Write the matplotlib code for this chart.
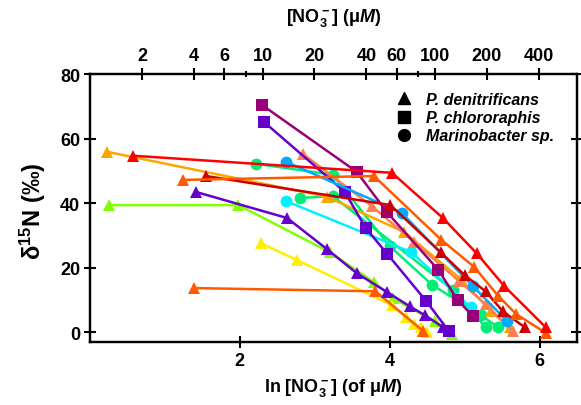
import numpy as np
import matplotlib
matplotlib.use("Agg")
import matplotlib.pyplot as plt
from matplotlib.lines import Line2D

plt.rcParams['font.family'] = ['Liberation Sans', 'DejaVu Sans']
plt.rcParams['font.weight'] = 'bold'
plt.rcParams['mathtext.fontset'] = 'custom'
plt.rcParams['mathtext.rm'] = 'Liberation Sans:bold'
plt.rcParams['mathtext.it'] = 'Liberation Sans:bold:italic'
plt.rcParams['mathtext.bf'] = 'Liberation Sans:bold'

# series: (marker, colour, ln[NO3-], d15N)
# P. denitrificans (triangles)
red_x = [0.57, 4.03, 4.71, 5.16, 5.53, 6.08]
red_y = [54.7, 49.4, 35.4, 24.5, 14.3, 1.6]
dkred_x = [1.55, 4.01, 4.68, 5.00, 5.28, 5.51, 5.80]
dkred_y = [48.4, 39.4, 24.8, 17.7, 12.7, 6.5, 1.6]
orred_x = [1.24, 3.79, 4.69, 5.13, 5.45, 5.69, 6.09]
orred_y = [47.2, 48.4, 28.6, 20.2, 11.2, 5.6, -0.3]
orange_x = [0.23, 3.16, 4.19, 4.95, 5.35, 5.60]
orange_y = [55.9, 42.0, 31.1, 16.5, 6.5, 1.5]
coral_x = [2.84, 3.76, 4.33, 4.93, 5.28, 5.64]
coral_y = [55.3, 39.1, 27.9, 15.8, 8.7, 0.3]
lime_x = [0.25, 1.98, 3.20, 3.79, 4.04, 4.60, 4.83]
lime_y = [39.4, 39.4, 24.8, 15.5, 10.6, 3.4, -0.6]
purple_x = [1.41, 2.63, 3.16, 3.56, 3.97, 4.27, 4.47, 4.71]
purple_y = [43.5, 35.4, 25.8, 18.3, 12.4, 8.0, 5.3, 1.6]
yellow_x = [2.28, 2.76, 4.03, 4.22, 4.33, 4.42, 4.50]
yellow_y = [27.6, 22.4, 8.4, 4.7, 2.5, 1.6, 0.0]
orlow_x = [1.39, 3.81, 4.45]
orlow_y = [13.7, 12.7, 0.3]

# P. chlororaphis (squares)
mag_x = [2.29, 3.56, 3.96, 4.65, 4.91, 5.11]
mag_y = [70.5, 49.7, 37.3, 19.3, 9.9, 5.0]
psq_x = [2.32, 3.40, 3.68, 3.97, 4.49, 4.79]
psq_y = [65.2, 43.5, 32.3, 24.2, 9.6, 0.3]

# Marinobacter sp. (circles)
sky_x = [2.62, 4.16, 5.11, 5.57]
sky_y = [52.8, 37.0, 14.3, 3.4]
cyan_x = [2.61, 4.29, 5.08]
cyan_y = [40.7, 24.8, 7.8]
grn1_x = [2.21, 3.24, 4.00, 4.57, 5.22, 5.44]
grn1_y = [52.2, 48.8, 26.7, 14.6, 5.3, 1.6]
grn2_x = [2.80, 3.24, 4.85, 5.28]
grn2_y = [41.6, 42.2, 13.0, 1.6]

series = [
    ('^', '#80ff00', lime_x, lime_y),
    ('^', '#ffee00', yellow_x, yellow_y),
    ('^', '#ff5a00', orlow_x, orlow_y),
    ('^', '#6600cc', purple_x, purple_y),
    ('o', '#00ee77', grn2_x, grn2_y),
    ('o', '#00ee77', grn1_x, grn1_y),
    ('o', '#00f0ff', cyan_x, cyan_y),
    ('^', '#ffa500', orange_x, orange_y),
    ('^', '#ff7f50', coral_x, coral_y),
    ('s', '#6600cc', psq_x, psq_y),
    ('o', '#00aaff', sky_x, sky_y),
    ('s', '#990077', mag_x, mag_y),
    ('^', '#cc0000', dkred_x, dkred_y),
    ('^', '#ff5a00', orred_x, orred_y),
    ('^', '#ff0000', red_x, red_y),
]

top_ticks = [2, 4, 6, 10, 20, 40, 60, 100, 200, 400]
top_minor = [8, 80]

fig = plt.figure(figsize=(5.81, 4.06), dpi=100)
ax = fig.add_axes([90/581, 63/406, 487/581, 268/406])

for m, c, xs, ys in series:
    ms = 8.5 if m == '^' else (8 if m == 's' else 8.5)
    ax.plot(xs, ys, color=c, marker=m, markersize=ms, mec=c, mew=0, lw=1.8)

ax.set_xlim(0, 6.5)
ax.set_ylim(-3, 80)
ax.set_xticks([2, 4, 6])
ax.set_yticks([0, 20, 40, 60, 80])
ax.tick_params(direction='inout', length=8, width=1.5, labelsize=13,
               right=True, pad=3)
for s in ax.spines.values():
    s.set_linewidth(1.6)

ax.set_xlabel('ln [NO$_3^-$] (of μ$M$)', fontsize=13, fontweight='bold', labelpad=5)
ax.set_ylabel('δ$^{15}$N (‰)', fontsize=17, fontweight='bold')
ax.yaxis.set_label_coords(-42/487, 0.49)

top = ax.twiny()
top.set_xlim(ax.get_xlim())
top.set_xticks(np.log(top_ticks))
top.set_xticklabels([str(t) for t in top_ticks])
top.set_xticks(np.log(top_minor), minor=True)
top.tick_params(direction='inout', length=8, width=1.5, labelsize=13, pad=3)
top.tick_params(which='minor', direction='inout', length=5, width=1.5)
for s in top.spines.values():
    s.set_linewidth(1.6)
top.set_xlabel('[NO$_3^-$] (μ$M$)', fontsize=13, fontweight='bold', labelpad=19)

handles = [Line2D([], [], color='black', marker=m, ls='none', markersize=8.5)
           for m in ['^', 's', 'o']]
labels = ['P. denitrificans', 'P. chlororaphis', 'Marinobacter sp.']
ax.legend(handles, labels, loc='upper left', frameon=False,
          bbox_to_anchor=(396/581, 1 - 93/406), bbox_transform=fig.transFigure,
          borderpad=0, borderaxespad=0, handlelength=1.0, handletextpad=0.9,
          labelspacing=0.2, prop={'weight': 'bold', 'style': 'italic', 'size': 11.5})

fig.savefig('out.png', dpi=100)
